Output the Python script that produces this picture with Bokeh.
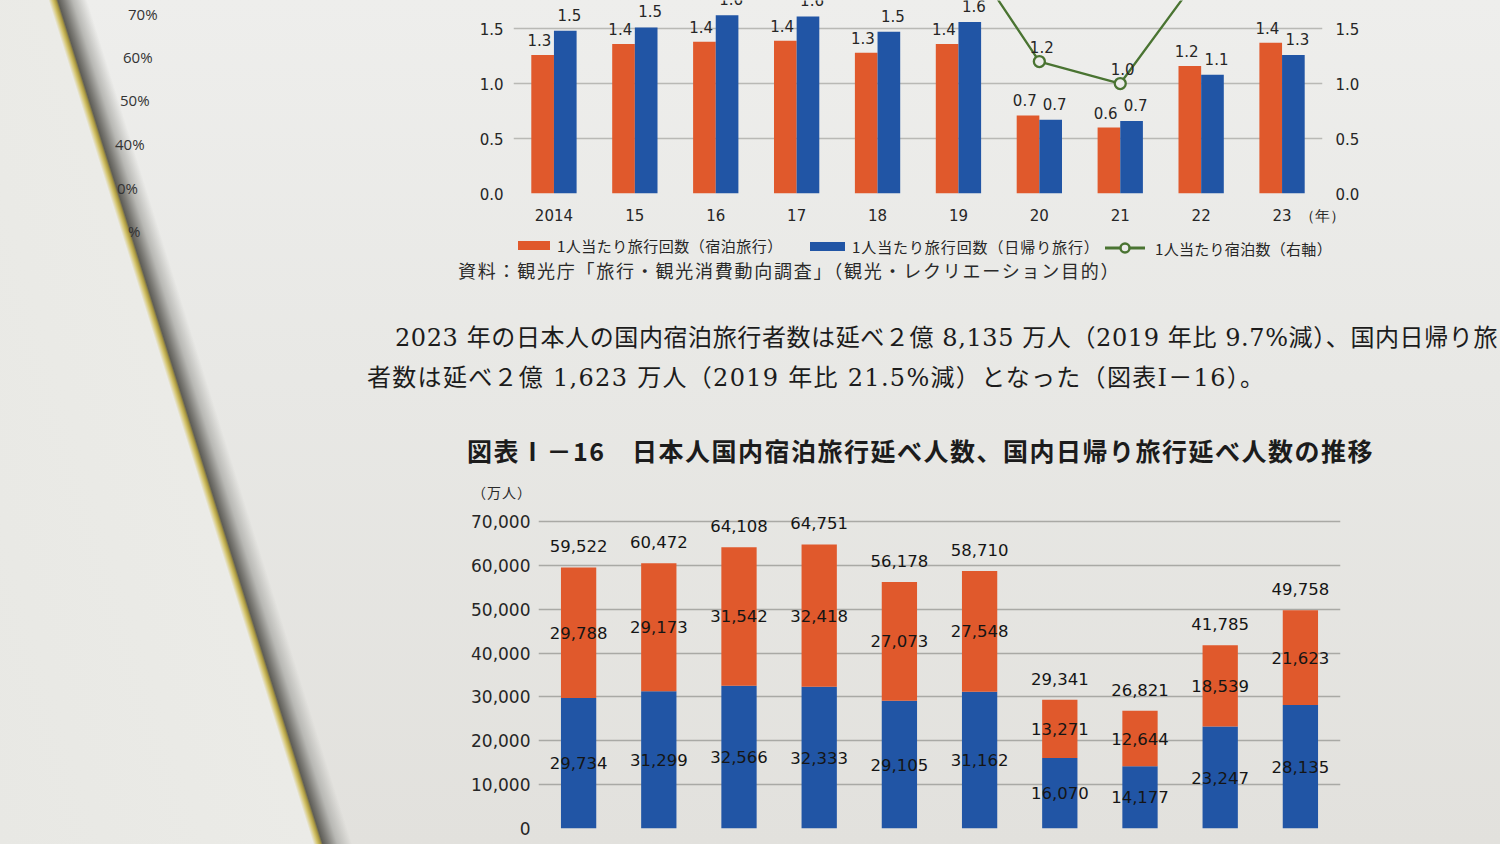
from bokeh.plotting import figure
from bokeh.models import (ColumnDataSource, FactorRange, Range1d, LinearAxis,
                          FixedTicker, NumeralTickFormatter, Div)
from bokeh.layouts import column, row
from bokeh.transform import dodge
from bokeh.core.properties import value
from bokeh.embed import file_html
from bokeh.resources import INLINE

# ---------------- data ----------------
years = ["2014", "15", "16", "17", "18", "19", "20", "21", "22", "23"]
# per-capita trips (top chart)
trips_stay = [1.26, 1.36, 1.38, 1.39, 1.28, 1.36, 0.71, 0.60, 1.16, 1.37]
trips_day = [1.48, 1.51, 1.62, 1.61, 1.47, 1.56, 0.67, 0.66, 1.08, 1.26]
nights = [2.2, 2.2, 2.3, 2.3, 2.1, 2.3, 1.2, 1.0, 2.0, 2.3]
top_ticks = [0.0, 0.5, 1.0, 1.5]

# bottom chart (万人)
stay_total = [29788, 29173, 31542, 32418, 27073, 27548, 13271, 12644, 18539, 21623]
day_total = [29734, 31299, 32566, 32333, 29105, 31162, 16070, 14177, 23247, 28135]
grand_total = [59522, 60472, 64108, 64751, 56178, 58710, 29341, 26821, 41785, 49758]
bottom_ticks = [0, 10000, 20000, 30000, 40000, 50000, 60000, 70000]

legend_labels = ["1人当たり旅行回数（宿泊旅行）", "1人当たり旅行回数（日帰り旅行）", "1人当たり宿泊数（右軸）"]
source_text = "資料：観光庁「旅行・観光消費動向調査」（観光・レクリエーション目的）"
para1 = "2023 年の日本人の国内宿泊旅行者数は延べ２億 8,135 万人（2019 年比 9.7%減）、国内日帰り旅"
para2 = "者数は延べ２億 1,623 万人（2019 年比 21.5%減）となった（図表Ⅰ－16）。"
chart_title = "図表Ⅰ－16　日本人国内宿泊旅行延べ人数、国内日帰り旅行延べ人数の推移"
unit_text = "（万人）"
year_unit = "（年）"
side_pct = ["70%", "60%", "50%", "40%", "0%", "%"]

# ---------------- style ----------------
ORANGE = "#e0592c"
BLUE = "#2155a5"
GREEN = "#4a7432"
TXT = "#262626"
GRID = "#b9b9b5"
NUMFONT = "DejaVu Sans"
JPFONT = "Noto Sans CJK JP"


def style_axis(ax, size, standoff):
    ax.axis_line_color = None
    ax.major_tick_line_color = None
    ax.minor_tick_line_color = None
    ax.major_tick_out = 0
    ax.major_tick_in = 0
    ax.minor_tick_out = 0
    ax.major_label_text_font = NUMFONT
    ax.major_label_text_font_size = size
    ax.major_label_text_color = TXT
    ax.major_label_standoff = standoff


# ---------------- top chart (numeric x: category index + 0.5) ----------------
n_years = len(years)
xi = [i + 0.5 for i in range(n_years)]
src1 = ColumnDataSource(dict(
    x=xi, o=trips_stay, b=trips_day, n=nights,
    ol=[f"{v:.1f}" for v in trips_stay],
    bl=[f"{v:.1f}" for v in trips_day],
    nl=[f"{v:.1f}" for v in nights],
))

p1 = figure(x_range=Range1d(0, n_years), y_range=Range1d(0, 1.755),
            width=1032, height=232, output_backend="svg", toolbar_location=None,
            min_border_left=45, min_border_right=178, min_border_top=0, min_border_bottom=39,
            background_fill_color=None, border_fill_color=None, outline_line_color=None)
p1.extra_y_ranges = {"right": Range1d(0, 1.755)}

p1.vbar(x=dodge("x", -0.14), top="o", width=0.28, source=src1,
        fill_color=ORANGE, line_color=None)
p1.vbar(x=dodge("x", 0.14), top="b", width=0.28, source=src1,
        fill_color=BLUE, line_color=None)
p1.text(x=dodge("x", -0.18), y="o", text="ol", source=src1,
        text_align="center", text_baseline="bottom", y_offset=-9,
        text_font=value(NUMFONT), text_font_size="15px", text_color=TXT)
p1.text(x=dodge("x", 0.19), y="b", text="bl", source=src1,
        text_align="center", text_baseline="bottom", y_offset=-10,
        text_font=value(NUMFONT), text_font_size="15px", text_color=TXT)
p1.line(x="x", y="n", source=src1, y_range_name="right", line_color=GREEN, line_width=2.3)
p1.scatter(x="x", y="n", source=src1, y_range_name="right", marker="circle", size=11,
           fill_color="#ececea", line_color=GREEN, line_width=2.3)
p1.text(x=dodge("x", 0.03), y="n", text="nl", source=src1, y_range_name="right",
        text_align="center", text_baseline="bottom", y_offset=-9,
        text_font=value(NUMFONT), text_font_size="15px", text_color=TXT)

# year axis: categories, with the unit label at the right end of the axis
year_ticks = xi + [n_years - 0.001]
ax_year = p1.xaxis[0]
ax_year.ticker = FixedTicker(ticks=year_ticks)
ax_year.major_label_overrides = {t: lab for t, lab in zip(year_ticks, years + [year_unit])}
style_axis(ax_year, "15px", 13)

style_axis(p1.yaxis[0], "15px", 10)
p1.yaxis[0].ticker = FixedTicker(ticks=top_ticks)
p1.yaxis[0].formatter = NumeralTickFormatter(format="0.0")
ax_r = LinearAxis(y_range_name="right", ticker=FixedTicker(ticks=top_ticks),
                  formatter=NumeralTickFormatter(format="0.0"))
style_axis(ax_r, "15px", 13)
p1.add_layout(ax_r, "right")
p1.xgrid.grid_line_color = None
p1.ygrid.ticker = FixedTicker(ticks=top_ticks)
p1.ygrid.grid_line_color = GRID
p1.ygrid.grid_line_width = 1.3

pct_html = "<div style=\"position:relative;width:468px;height:232px;font-family:'Open Sans';font-size:15px;color:#333333;\">"
pct_pos = [(128, 14), (123, 57), (120, 100), (115, 144), (117, 188), (128, 231)]
for t, (lx, cy) in zip(side_pct, pct_pos):
    pct_html += f"<div style=\"position:absolute;left:{lx}px;top:{cy - 10}px;line-height:20px;\">{t}</div>"
pct_html += "</div>"
left_div = Div(text=pct_html, width=468, height=232, margin=0)

# ---------------- legend + text block ----------------
MID_H = 278


def txt(left, center, size, lh, content, family, extra=""):
    return (f"<div style=\"position:absolute;left:{left}px;top:{center - lh / 2}px;"
            f"font-family:{family};font-size:{size}px;line-height:{lh}px;white-space:nowrap;{extra}\">"
            f"{content}</div>")


JP = f"'{JPFONT}'"
SERIF = f"'DejaVu Serif','{JPFONT}'"
mid_html = f"<div style=\"position:relative;width:1500px;height:{MID_H}px;overflow:hidden;color:#1c1c1c;\">"
# legend
mid_html += f"<div style=\"position:absolute;left:518px;top:9px;width:32px;height:9px;background:{ORANGE};\"></div>"
mid_html += txt(557, 14, 15, 22, legend_labels[0], JP, f"letter-spacing:0.5px;color:{TXT};")
mid_html += f"<div style=\"position:absolute;left:810px;top:10px;width:35px;height:9px;background:{BLUE};\"></div>"
mid_html += txt(852, 15, 15, 22, legend_labels[1], JP, f"letter-spacing:0.9px;color:{TXT};")
mid_html += (f"<svg style=\"position:absolute;left:1105px;top:9px;\" width=\"40\" height=\"14\">"
             f"<line x1=\"0\" y1=\"7\" x2=\"40\" y2=\"7\" stroke=\"{GREEN}\" stroke-width=\"3\"/>"
             f"<circle cx=\"20\" cy=\"7\" r=\"4.5\" fill=\"#ececea\" stroke=\"{GREEN}\" stroke-width=\"2.5\"/></svg>")
mid_html += txt(1155, 17, 15, 22, legend_labels[2], JP, f"letter-spacing:0.3px;color:{TXT};")
# source
mid_html += txt(458, 38, 18, 26, source_text, JP, "letter-spacing:1.75px;color:#2a2a2a;")
# paragraph
mid_html += txt(395, 106, 24, 34, para1, SERIF, "letter-spacing:0.6px;")
mid_html += txt(367, 146, 24, 34, para2, SERIF, "letter-spacing:1.3px;")
# chart title
mid_html += txt(467, 218, 25, 36, chart_title, JP, "font-weight:700;letter-spacing:1.5px;")
# unit
mid_html += txt(472, 260, 14, 20, unit_text, JP, "letter-spacing:1px;color:#2a2a2a;")
mid_html += "</div>"
mid_div = Div(text=mid_html, width=1500, height=MID_H, margin=0)

# ---------------- bottom chart ----------------
src2 = ColumnDataSource(dict(
    x=years, day=day_total, stay=stay_total, tot=grand_total,
    day_mid=[d / 2 for d in day_total],
    stay_mid=[d + s / 2 for d, s in zip(day_total, stay_total)],
    dl=[f"{v:,}" for v in day_total],
    sl=[f"{v:,}" for v in stay_total],
    tl=[f"{v:,}" for v in grand_total],
))

p2 = figure(x_range=FactorRange(*years), y_range=Range1d(0, 72500),
            width=1500, height=334, output_backend="svg", toolbar_location=None,
            min_border_left=538, min_border_right=160, min_border_top=0, min_border_bottom=16,
            background_fill_color=None, border_fill_color=None, outline_line_color=None)
p2.vbar_stack(["day", "stay"], x="x", width=0.44, source=src2,
              fill_color=[BLUE, ORANGE], line_color=None)
for ycol, tcol in (("day_mid", "dl"), ("stay_mid", "sl")):
    p2.text(x="x", y=ycol, text=tcol, source=src2, text_align="center", text_baseline="middle",
            text_font=value(NUMFONT), text_font_size="16.5px", text_color="#151515")
p2.text(x="x", y="tot", text="tl", source=src2, text_align="center", text_baseline="bottom",
        y_offset=-15, text_font=value(NUMFONT), text_font_size="16.5px", text_color="#151515")

p2.xaxis.visible = False
style_axis(p2.yaxis[0], "17px", 8)
p2.yaxis[0].ticker = FixedTicker(ticks=bottom_ticks)
p2.yaxis[0].formatter = NumeralTickFormatter(format="0,0")
p2.xgrid.grid_line_color = None
p2.ygrid.ticker = FixedTicker(ticks=bottom_ticks)
p2.ygrid.grid_line_color = "#a9a9a5"
p2.ygrid.grid_line_width = 1.5

# ---------------- page ----------------
bg = ("linear-gradient(72.57deg, #e8e8e4 0px, #ebebe7 299px, #d4c46c 303px, #a9973f 306px, "
      "#5e5d57 308px, #7c7b76 313px, #b8b8b4 322px, rgba(236,236,233,0) 336px), "
      "linear-gradient(180deg, #eeeeec 0%, #e8e8e5 45%, #e2e1dd 100%)")
layout = column(row(left_div, p1, margin=0), mid_div, p2, margin=0,
                styles={"background": bg})

open("out.html", "w").write(file_html(layout, INLINE))
